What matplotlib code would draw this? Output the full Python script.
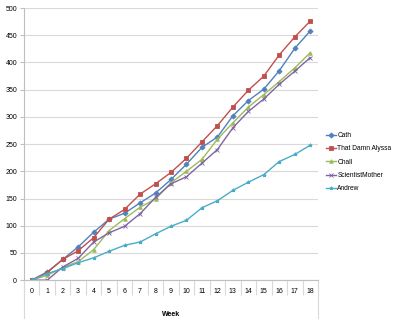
import matplotlib.pyplot as plt
from matplotlib.lines import Line2D

weeks = list(range(19))
cath = [0, 15, 38, 61, 88, 112, 123, 142, 160, 185, 213, 244, 263, 302, 330, 351, 385, 426, 458]
alyssa = [0, 14, 38, 54, 78, 112, 130, 158, 177, 198, 224, 254, 284, 318, 349, 375, 414, 447, 476]
chall = [0, 9, 23, 34, 56, 91, 113, 134, 149, 179, 200, 222, 259, 289, 318, 341, 365, 390, 418]
scimom = [0, 0, 24, 40, 70, 87, 99, 122, 152, 177, 190, 215, 240, 280, 310, 333, 360, 384, 409]
andrew = [0, 12, 21, 32, 41, 53, 64, 70, 85, 99, 110, 133, 146, 165, 180, 194, 218, 231, 248]

series = [
    ('Cath', cath, '#4F81BD', 'D'),
    ('That Damn Alyssa', alyssa, '#C0504D', 's'),
    ('Chall', chall, '#9BBB59', '^'),
    ('ScientistMother', scimom, '#8064A2', 'x'),
    ('Andrew', andrew, '#4BACC6', '*'),
]

plt.rcParams['font.family'] = ['Liberation Sans', 'DejaVu Sans']

fig = plt.figure(figsize=(4.0, 3.22), dpi=100)
ax = fig.add_axes([0.06, 0.130, 0.735, 0.845])

for name, vals, color, marker in series:
    ms = 3.5 if marker == 's' else 2.6
    ax.plot(weeks, vals, color=color, lw=1.0, marker=marker, markersize=ms,
            markeredgewidth=0.6, label=name)

ax.set_xlim(-0.5, 18.5)
ax.set_ylim(0, 500)
ax.set_yticks(range(0, 501, 50))
ax.set_xticks(weeks)
ax.set_xticks([w - 0.5 for w in weeks] + [18.5], minor=True)
ax.grid(axis='y', color='#d9d9d9', lw=0.8)
ax.set_axisbelow(True)

for side in ['top', 'right']:
    ax.spines[side].set_visible(False)
for side in ['left', 'bottom']:
    ax.spines[side].set_color('#bfbfbf')
    ax.spines[side].set_linewidth(0.8)

ax.tick_params(axis='y', labelsize=5, length=3, color='#bfbfbf', width=0.8, pad=2)
ax.tick_params(axis='x', which='major', labelsize=5, length=0, pad=6)
ax.tick_params(axis='x', which='minor', length=11, color='#d9d9d9', width=0.8)

# long edge lines of the category table
trans = ax.get_xaxis_transform()
for xe in (-0.5, 18.5):
    ax.add_line(Line2D([xe, xe], [0, -0.14], transform=trans, color='#d9d9d9',
                       lw=0.8, clip_on=False))

ax.set_xlabel('Week', fontsize=5, fontweight='bold', labelpad=8)

leg = fig.legend(loc='upper left', bbox_to_anchor=(0.815, 0.590), fontsize=4.8,
                 frameon=False, handlelength=1.5, labelspacing=0.95,
                 handletextpad=0.2, borderaxespad=0, borderpad=0)

fig.savefig('out.png', dpi=100)
